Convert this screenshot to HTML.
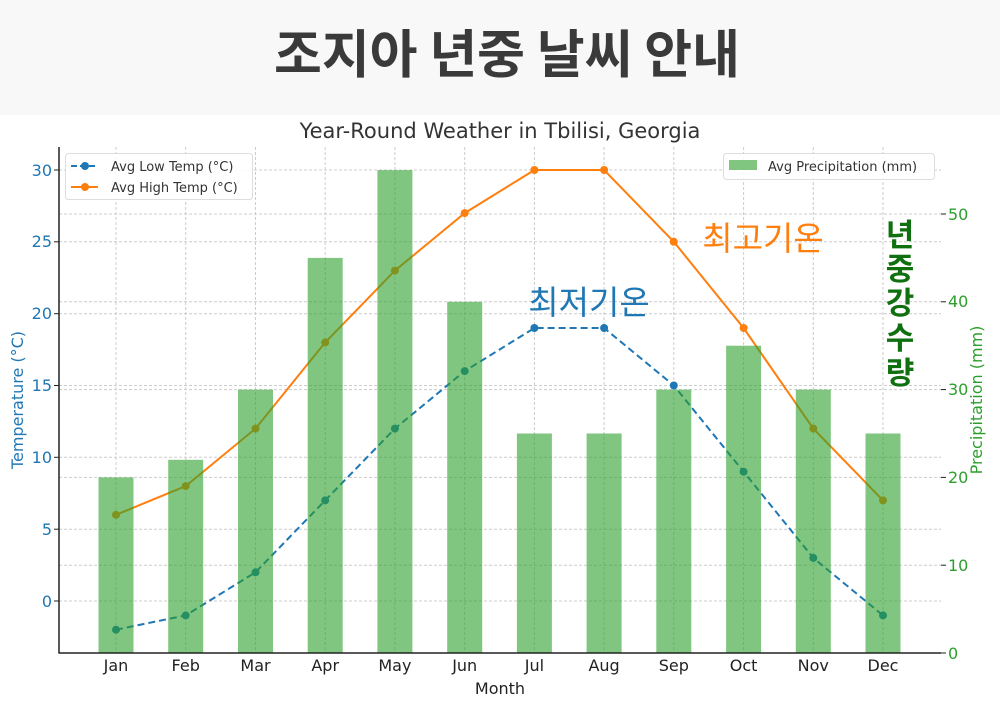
<!DOCTYPE html>
<html><head><meta charset="utf-8"><style>
html,body{margin:0;padding:0;background:#fff;}
</style></head><body>
<svg width="1000" height="707" xmlns="http://www.w3.org/2000/svg" font-family="'DejaVu Sans','Liberation Sans','Noto Sans CJK KR',sans-serif">
<rect x="0" y="0" width="1000" height="115" fill="#f8f8f8"/>
<text x="507" y="73" text-anchor="middle" font-size="52" font-weight="bold" fill="#3a3a3a" font-family="'Noto Sans CJK KR',sans-serif">조지아 년중 날씨 안내</text>
<text x="500" y="138" text-anchor="middle" font-size="21" fill="#333">Year-Round Weather in Tbilisi, Georgia</text>
<g stroke="#cccccc" stroke-width="1" stroke-dasharray="3,2">
<line x1="59" x2="941" y1="601" y2="601"/><line x1="59" x2="941" y1="529.2" y2="529.2"/><line x1="59" x2="941" y1="457.3" y2="457.3"/><line x1="59" x2="941" y1="385.5" y2="385.5"/><line x1="59" x2="941" y1="313.7" y2="313.7"/><line x1="59" x2="941" y1="241.8" y2="241.8"/><line x1="59" x2="941" y1="170" y2="170"/>
<line x1="59" x2="941" y1="565.2" y2="565.2"/><line x1="59" x2="941" y1="477.4" y2="477.4"/><line x1="59" x2="941" y1="389.6" y2="389.6"/><line x1="59" x2="941" y1="301.8" y2="301.8"/><line x1="59" x2="941" y1="214" y2="214"/>
<line y1="147" y2="653" x1="116" x2="116"/><line y1="147" y2="653" x1="185.7" x2="185.7"/><line y1="147" y2="653" x1="255.5" x2="255.5"/><line y1="147" y2="653" x1="325.2" x2="325.2"/><line y1="147" y2="653" x1="394.9" x2="394.9"/><line y1="147" y2="653" x1="464.7" x2="464.7"/><line y1="147" y2="653" x1="534.4" x2="534.4"/><line y1="147" y2="653" x1="604.1" x2="604.1"/><line y1="147" y2="653" x1="673.8" x2="673.8"/><line y1="147" y2="653" x1="743.6" x2="743.6"/><line y1="147" y2="653" x1="813.3" x2="813.3"/><line y1="147" y2="653" x1="883" x2="883"/>
</g>
<polyline fill="none" stroke="#1f77b4" stroke-width="2" stroke-dasharray="7,4" points="116,629.7 185.7,615.4 255.5,572.3 325.2,500.4 394.9,428.6 464.7,371.1 534.4,328 604.1,328 673.8,385.5 743.6,471.7 813.3,557.9 883,615.4"/>
<g fill="#1f77b4"><circle cx="116" cy="629.7" r="4"/><circle cx="185.7" cy="615.4" r="4"/><circle cx="255.5" cy="572.3" r="4"/><circle cx="325.2" cy="500.4" r="4"/><circle cx="394.9" cy="428.6" r="4"/><circle cx="464.7" cy="371.1" r="4"/><circle cx="534.4" cy="328" r="4"/><circle cx="604.1" cy="328" r="4"/><circle cx="673.8" cy="385.5" r="4"/><circle cx="743.6" cy="471.7" r="4"/><circle cx="813.3" cy="557.9" r="4"/><circle cx="883" cy="615.4" r="4"/></g>
<polyline fill="none" stroke="#ff7f0e" stroke-width="2" points="116,514.8 185.7,486.1 255.5,428.6 325.2,342.4 394.9,270.6 464.7,213.1 534.4,170 604.1,170 673.8,241.8 743.6,328 813.3,428.6 883,500.4"/>
<g fill="#ff7f0e"><circle cx="116" cy="514.8" r="4"/><circle cx="185.7" cy="486.1" r="4"/><circle cx="255.5" cy="428.6" r="4"/><circle cx="325.2" cy="342.4" r="4"/><circle cx="394.9" cy="270.6" r="4"/><circle cx="464.7" cy="213.1" r="4"/><circle cx="534.4" cy="170" r="4"/><circle cx="604.1" cy="170" r="4"/><circle cx="673.8" cy="241.8" r="4"/><circle cx="743.6" cy="328" r="4"/><circle cx="813.3" cy="428.6" r="4"/><circle cx="883" cy="500.4" r="4"/></g>
<g fill="#2ca02c" fill-opacity="0.6">
<rect x="98.5" y="477.4" width="35" height="175.6"/><rect x="168.2" y="459.8" width="35" height="193.2"/><rect x="238" y="389.6" width="35" height="263.4"/><rect x="307.7" y="257.9" width="35" height="395.1"/><rect x="377.4" y="170.1" width="35" height="482.9"/><rect x="447.2" y="301.8" width="35" height="351.2"/><rect x="516.9" y="433.5" width="35" height="219.5"/><rect x="586.6" y="433.5" width="35" height="219.5"/><rect x="656.3" y="389.6" width="35" height="263.4"/><rect x="726.1" y="345.7" width="35" height="307.3"/><rect x="795.8" y="389.6" width="35" height="263.4"/><rect x="865.5" y="433.5" width="35" height="219.5"/>
</g>
<line x1="59" y1="147" x2="59" y2="653.5" stroke="#222" stroke-width="1.5"/>
<line x1="58.5" y1="653" x2="941" y2="653" stroke="#222" stroke-width="1.5"/>
<g font-size="16" fill="#1f77b4" text-anchor="end">
<text x="52" y="607">0</text><text x="52" y="535">5</text><text x="52" y="463">10</text><text x="52" y="391">15</text><text x="52" y="319">20</text><text x="52" y="247">25</text><text x="52" y="176">30</text>
</g>
<g stroke="#222"><line x1="54" x2="59" y1="601" y2="601"/><line x1="54" x2="59" y1="529.2" y2="529.2"/><line x1="54" x2="59" y1="457.3" y2="457.3"/><line x1="54" x2="59" y1="385.5" y2="385.5"/><line x1="54" x2="59" y1="313.7" y2="313.7"/><line x1="54" x2="59" y1="241.8" y2="241.8"/><line x1="54" x2="59" y1="170" y2="170"/>
<line x1="941" x2="946" y1="653" y2="653"/><line x1="941" x2="946" y1="565.2" y2="565.2"/><line x1="941" x2="946" y1="477.4" y2="477.4"/><line x1="941" x2="946" y1="389.6" y2="389.6"/><line x1="941" x2="946" y1="301.8" y2="301.8"/><line x1="941" x2="946" y1="214" y2="214"/></g>
<g font-size="16" fill="#2ca02c">
<text x="948" y="659">0</text><text x="948" y="571">10</text><text x="948" y="483">20</text><text x="948" y="395">30</text><text x="948" y="307">40</text><text x="948" y="220">50</text>
</g>
<g font-size="16" fill="#222" text-anchor="middle">
<text x="116" y="671">Jan</text><text x="185.7" y="671">Feb</text><text x="255.5" y="671">Mar</text><text x="325.2" y="671">Apr</text><text x="394.9" y="671">May</text><text x="464.7" y="671">Jun</text><text x="534.4" y="671">Jul</text><text x="604.1" y="671">Aug</text><text x="673.8" y="671">Sep</text><text x="743.6" y="671">Oct</text><text x="813.3" y="671">Nov</text><text x="883" y="671">Dec</text>
</g>
<text x="500" y="694" text-anchor="middle" font-size="16" fill="#222">Month</text>
<text transform="translate(23,400) rotate(-90)" text-anchor="middle" font-size="16" fill="#1f77b4">Temperature (°C)</text>
<text transform="translate(982,400) rotate(-90)" text-anchor="middle" font-size="16" fill="#2ca02c">Precipitation (mm)</text>
<rect x="65.5" y="153.5" width="187" height="46" rx="3" fill="#fff" fill-opacity="0.85" stroke="#ddd"/>
<line x1="71" x2="98" y1="166" y2="166" stroke="#1f77b4" stroke-width="2" stroke-dasharray="6,3"/><circle cx="85" cy="166" r="4" fill="#1f77b4"/>
<line x1="71" x2="98" y1="187" y2="187" stroke="#ff7f0e" stroke-width="2"/><circle cx="85" cy="187" r="4" fill="#ff7f0e"/>
<text x="111" y="171" font-size="13" fill="#333">Avg Low Temp (°C)</text>
<text x="111" y="192" font-size="13" fill="#333">Avg High Temp (°C)</text>
<rect x="723.5" y="153.5" width="211" height="26" rx="3" fill="#fff" fill-opacity="0.85" stroke="#ddd"/>
<rect x="729" y="160" width="28" height="10" fill="#2ca02c" fill-opacity="0.6"/>
<text x="768" y="171" font-size="13" fill="#333">Avg Precipitation (mm)</text>
<text x="589" y="314" text-anchor="middle" font-size="33" fill="#1f77b4" font-family="'Noto Sans CJK KR',sans-serif">최저기온</text>
<text x="763" y="250" text-anchor="middle" font-size="33" fill="#ff7f0e" font-family="'Noto Sans CJK KR',sans-serif">최고기온</text>
<g font-size="31" font-weight="bold" fill="#107010" text-anchor="middle" font-family="'Noto Sans CJK KR',sans-serif">
<text x="900" y="246">년</text><text x="900" y="280">중</text><text x="900" y="314">강</text><text x="900" y="349">수</text><text x="900" y="384">량</text>
</g>
</svg>
</body></html>
